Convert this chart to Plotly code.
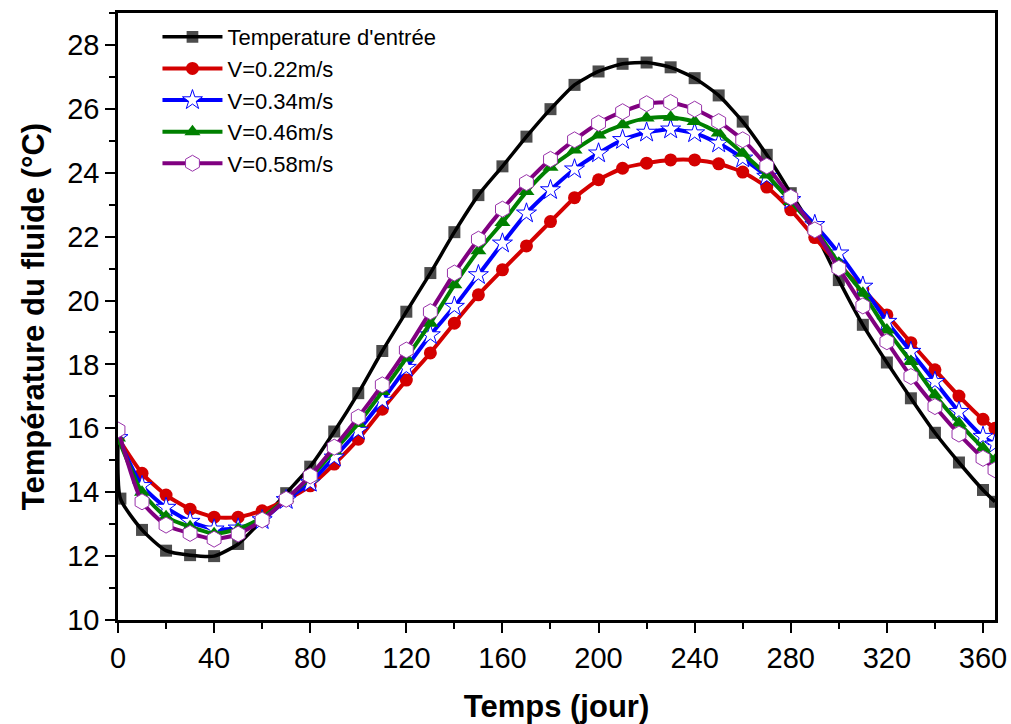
import plotly.graph_objects as go

# Days of the year (sampled every 10 days, plus the last day)
days = [0, 10, 20, 30, 40, 50, 60, 70, 80, 90, 100, 110, 120, 130, 140, 150, 160, 170,
        180, 190, 200, 210, 220, 230, 240, 250, 260, 270, 280, 290, 300, 310, 320, 330,
        340, 350, 360, 365]

# Inlet temperature has an extra early sample at day 1
days_inlet = [0, 1, 10, 20, 30, 40, 50, 60, 70, 80, 90, 100, 110, 120, 130, 140, 150, 160,
              170, 180, 190, 200, 210, 220, 230, 240, 250, 260, 270, 280, 290, 300, 310,
              320, 330, 340, 350, 360, 365]
t_inlet = [15.6, 13.8, 12.82, 12.17, 12.03, 12.0, 12.38, 13.13, 13.97, 14.8, 15.9, 17.1,
           18.42, 19.65, 20.86, 22.14, 23.3, 24.2, 25.13, 25.99, 26.75, 27.17, 27.41, 27.45,
           27.30, 26.96, 26.42, 25.6, 24.56, 23.36, 22.15, 20.64, 19.24, 18.06, 16.94,
           15.86, 14.93, 14.07, 13.70]

t_v022 = [15.7, 14.59, 13.91, 13.47, 13.22, 13.22, 13.42, 13.76, 14.2, 14.88, 15.66, 16.6,
          17.51, 18.36, 19.29, 20.18, 20.96, 21.71, 22.47, 23.22, 23.78, 24.14, 24.30, 24.40,
          24.40, 24.28, 24.02, 23.55, 22.84, 21.97, 21.13, 20.35, 19.55, 18.68, 17.83, 17.01,
          16.28, 16.0]

t_v034 = [15.7, 14.2, 13.52, 13.08, 12.84, 12.87, 13.13, 13.76, 14.3, 15.09, 15.93, 16.87,
          17.9, 18.92, 19.81, 20.80, 21.79, 22.73, 23.46, 24.11, 24.61, 25.03, 25.26, 25.36,
          25.24, 24.92, 24.45, 23.88, 23.15, 22.37, 21.48, 20.44, 19.34, 18.40, 17.46, 16.52,
          15.74, 15.5]

t_v046 = [15.7, 14.0, 13.23, 12.92, 12.7, 12.85, 13.2, 13.8, 14.45, 15.3, 16.15, 17.15,
          18.2, 19.29, 20.49, 21.56, 22.44, 23.41, 24.17, 24.71, 25.18, 25.5, 25.71, 25.74,
          25.6, 25.24, 24.61, 23.93, 23.1, 22.25, 21.17, 20.23, 19.08, 18.09, 17.04, 16.16,
          15.38, 15.0]

t_v058 = [15.95, 13.70, 12.97, 12.71, 12.53, 12.69, 13.13, 13.78, 14.51, 15.41, 16.35, 17.36,
          18.45, 19.65, 20.86, 21.92, 22.86, 23.69, 24.42, 25.03, 25.55, 25.91, 26.16, 26.2,
          25.99, 25.6, 25.03, 24.21, 23.23, 22.21, 21.01, 19.83, 18.71, 17.62, 16.68, 15.82,
          15.06, 14.7]

series_names = ["Temperature d'entrée", "V=0.22m/s", "V=0.34m/s", "V=0.46m/s", "V=0.58m/s"]

x_ticks = list(range(0, 361, 40))
y_ticks = list(range(10, 29, 2))

fig = go.Figure()

# Inlet temperature: no marker on the very first sample
inlet_sizes = [0] + [12] * (len(days_inlet) - 1)
fig.add_trace(go.Scatter(
    x=days_inlet, y=t_inlet, name=series_names[0], mode="lines+markers",
    line=dict(color="black", width=3.5, shape="spline", smoothing=0.6),
    marker=dict(symbol="square", size=inlet_sizes, color="black",
                line=dict(color="black", width=0)),
))

styles = [
    (t_v022, "#d40000", dict(symbol="circle", size=13, color="#d40000")),
    (t_v034, "#0000ff", dict(symbol="star", size=15, color="white",
                             line=dict(color="#0000ff", width=1))),
    (t_v046, "#008000", dict(symbol="triangle-up", size=14, color="#008000")),
    (t_v058, "#800080", dict(symbol="hexagon", size=16, color="white",
                             line=dict(color="#9933aa", width=1))),
]
for name, (vals, col, mk) in zip(series_names[1:], styles):
    fig.add_trace(go.Scatter(
        x=days, y=vals, name=name, mode="lines+markers",
        line=dict(color=col, width=4, shape="spline", smoothing=0.6),
        marker=mk,
    ))

axis_font = dict(family="Liberation Sans, Arial, sans-serif", size=29, color="black")
title_font = dict(family="Liberation Sans, Arial, sans-serif", size=31, color="black")

fig.update_layout(
    width=1011, height=724,
    margin=dict(l=118, r=16, t=13, b=104, autoexpand=False),
    paper_bgcolor="white", plot_bgcolor="white",
    showlegend=True,
    legend=dict(
        x=0.045, y=0.995, xanchor="left", yanchor="top",
        bgcolor="rgba(0,0,0,0)", borderwidth=0,
        font=dict(family="Liberation Sans, Arial, sans-serif", size=22, color="black"),
        itemwidth=60, tracegroupgap=0,
    ),
    xaxis=dict(
        range=[0, 365], tickvals=x_ticks, ticktext=[str(v) for v in x_ticks],
        ticks="outside", ticklen=10, tickwidth=2, tickcolor="black",
        minor=dict(dtick=20, tick0=0, ticks="outside", ticklen=6, tickwidth=2,
                   tickcolor="black", showgrid=False),
        showline=True, linecolor="black", linewidth=2.5, mirror=True,
        showgrid=False, zeroline=False, tickfont=axis_font, automargin=False,
        title=dict(text="<b>Temps (jour)</b>", font=title_font, standoff=26),
    ),
    yaxis=dict(
        range=[10, 29], tickvals=y_ticks, ticktext=[str(v) for v in y_ticks],
        ticks="outside", ticklen=10, tickwidth=2, tickcolor="black",
        minor=dict(dtick=1, tick0=10, ticks="outside", ticklen=6, tickwidth=2,
                   tickcolor="black", showgrid=False),
        showline=True, linecolor="black", linewidth=2.5, mirror=True,
        showgrid=False, zeroline=False, tickfont=axis_font, automargin=False,
        title=dict(text="<b>Température du fluide (°C)</b>", font=title_font, standoff=14),
    ),
)

fig.write_html("out.html")
